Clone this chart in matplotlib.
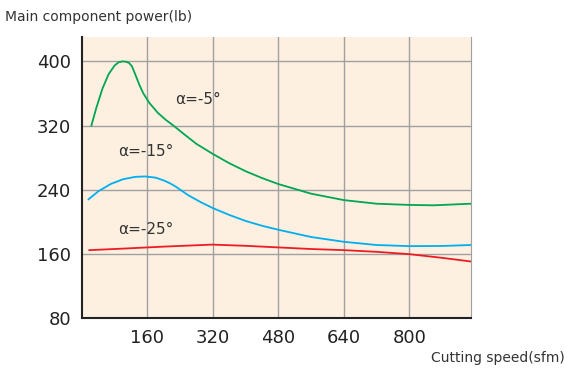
import matplotlib
matplotlib.use("Agg")
import matplotlib.pyplot as plt

# -----------------------------------------------------------------------
# Data
# -----------------------------------------------------------------------
X_TICKS = [160, 320, 480, 640, 800]
Y_TICKS = [80, 160, 240, 320, 400]

speed_5 = [23, 35, 50, 65, 80, 90, 100, 108, 115, 122, 130, 140, 150, 165,
           185, 205, 222, 250, 280, 320, 360, 400, 440, 480, 560, 640, 720,
           800, 860, 950]
power_5 = [320, 342, 366, 384, 395, 399, 400, 399.5, 398, 394, 384, 371,
           360, 348, 336, 327, 320.5, 309, 297, 284.5, 273, 263, 254.5,
           247, 235, 227, 222.5, 221, 220.5, 222.5]

speed_15 = [16, 40, 70, 100, 130, 155, 180, 200, 215, 230, 260, 290, 320,
            360, 400, 440, 480, 560, 640, 720, 800, 880, 950]
power_15 = [228, 238, 247, 253, 256, 256.5, 255, 251.5, 248, 243.5, 233,
            224.5, 217, 208.5, 201, 195, 190, 181, 175, 171, 169.6, 169.8,
            171]

speed_25 = [18, 100, 200, 318, 400, 480, 560, 640, 720, 800, 880, 950]
power_25 = [164.6, 166.5, 169, 171.5, 170, 168, 166, 164.6, 162.5, 159.6,
            155, 150.5]

GREEN = "#00a651"
BLUE = "#00aeef"
RED = "#ed1c24"

fig = plt.figure(figsize=(5.67, 3.72), dpi=100)
ax = fig.add_axes([0.1446, 0.1452, 0.6855, 0.7545])
ax.set_facecolor("#fdf0e1")

ax.plot(speed_5, power_5, color=GREEN, lw=1.3)
ax.plot(speed_15, power_15, color=BLUE, lw=1.3)
ax.plot(speed_25, power_25, color=RED, lw=1.3)

ax.text(228, 352, "α=-5°", fontsize=11, color="#333333", va="center")
ax.text(89, 287.5, "α=-15°", fontsize=11, color="#333333", va="center")
ax.text(89, 190, "α=-25°", fontsize=11, color="#333333", va="center")

ax.set_xlim(0, 950)
ax.set_ylim(80, 430)
ax.set_xticks(X_TICKS)
ax.set_yticks(Y_TICKS)
ax.tick_params(length=0, labelsize=13, colors="#222222", pad=8)
ax.grid(True, color="#a0a0a0", lw=1)

for side in ("left", "bottom"):
    ax.spines[side].set_color("#222222")
    ax.spines[side].set_linewidth(1.5)
ax.spines["top"].set_visible(False)
ax.spines["right"].set_color("#a0a0a0")

fig.text(5 / 567, 1 - 17 / 372, "Main component power(lb)", fontsize=10,
         color="#333333", va="center", ha="left")
fig.text(565 / 567, 1 - 358 / 372, "Cutting speed(sfm)", fontsize=10,
         color="#333333", va="center", ha="right")

fig.savefig("out.png", dpi=100)
